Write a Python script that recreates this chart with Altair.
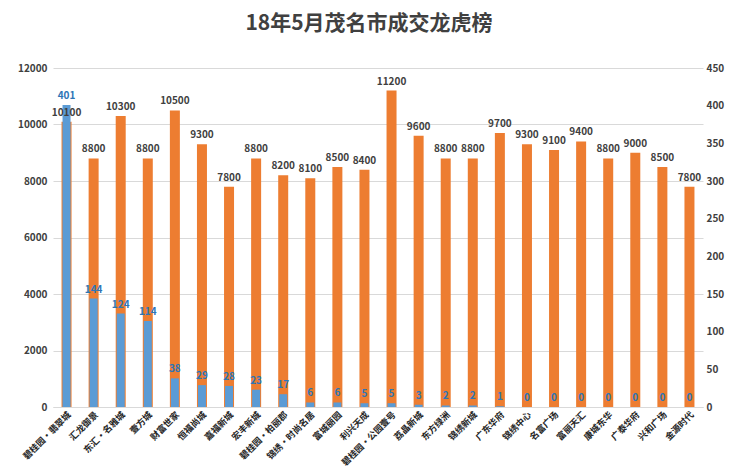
import altair as alt
import pandas as pd

categories = ["碧桂园·翡翠城", "汇龙御景", "东汇·名雅城", "壹方城", "财富世家", "恒福尚城",
              "嘉福新城", "宏丰新城", "碧桂园·柏丽郡", "锦绣·时尚名居", "富城丽园", "利兴天成",
              "碧桂园·公园壹号", "荔晶新城", "东方绿洲", "锦绣新城", "广东华府", "锦绣中心",
              "名富广场", "富丽天汇", "康城东华", "广泰华府", "兴和广场", "金源时代"]
price = [10100, 8800, 10300, 8800, 10500, 9300, 7800, 8800, 8200, 8100, 8500, 8400,
         11200, 9600, 8800, 8800, 9700, 9300, 9100, 9400, 8800, 9000, 8500, 7800]
deals = [401, 144, 124, 114, 38, 29, 28, 23, 17, 6, 6, 5,
         5, 3, 2, 2, 1, 0, 0, 0, 0, 0, 0, 0]

df = pd.DataFrame({"name": categories, "price": price, "deals": deals})

FONT = "Noto Sans CJK SC"
ORANGE = "#ED7D31"
BLUE = "#5B9BD5"

xaxis = alt.Axis(labelAngle=-45, labelFontSize=9, labelFontWeight="bold", labelColor="#262626",
                 labelFont=FONT, ticks=False, domainColor="#d9d9d9", title=None, labelPadding=3)
x = alt.X("name:N", sort=categories, axis=xaxis, scale=alt.Scale(paddingInner=0, paddingOuter=0))

left_scale = alt.Scale(domain=[0, 12000], nice=False)
right_scale = alt.Scale(domain=[0, 450], nice=False)

base = alt.Chart(df)

orange_bars = base.mark_bar(color=ORANGE, size=10).encode(
    x=x,
    y=alt.Y("price:Q", scale=left_scale,
            axis=alt.Axis(orient="left", values=list(range(0, 12001, 2000)), format="d", ticks=False,
                          domain=False, labelFontSize=10, labelFontWeight="bold", labelColor="#404040",
                          labelFont=FONT, gridColor="#d9d9d9", title=None, labelPadding=6)),
)

blue_bars = base.mark_bar(color=BLUE, size=8).encode(
    x=x,
    y=alt.Y("deals:Q", scale=right_scale,
            axis=alt.Axis(orient="right", values=list(range(0, 451, 50)), format="d", ticks=False,
                          domain=False, grid=False, labelFontSize=10, labelFontWeight="bold",
                          labelColor="#404040", labelFont=FONT, title=None, labelPadding=3)),
)

orange_text = base.mark_text(baseline="bottom", dy=-4, fontSize=10, fontWeight="bold",
                             color="#404040", font=FONT).encode(
    x=x,
    y=alt.Y("price:Q", scale=left_scale, axis=None),
    text=alt.Text("price:Q", format="d"),
)

blue_text = base.mark_text(baseline="bottom", dy=-4, fontSize=10, fontWeight="bold",
                           color="#2E75B6", font=FONT).encode(
    x=x,
    y=alt.Y("deals:Q", scale=right_scale, axis=None),
    text=alt.Text("deals:Q", format="d"),
)

chart = alt.layer(orange_bars, blue_bars, orange_text, blue_text).resolve_scale(
    y="independent"
).properties(
    width=650, height=339,
    title=alt.TitleParams("18年5月茂名市成交龙虎榜", fontSize=21, fontWeight="bold", color="#404040",
                          font=FONT, offset=29, dx=-9),
    autosize=alt.AutoSizeParams(type="none"),
    padding={"left": 45, "top": 60, "right": 28, "bottom": 66},
).configure_view(stroke=None)

chart.save("out.html", embed_options={"renderer": "svg", "actions": False})
